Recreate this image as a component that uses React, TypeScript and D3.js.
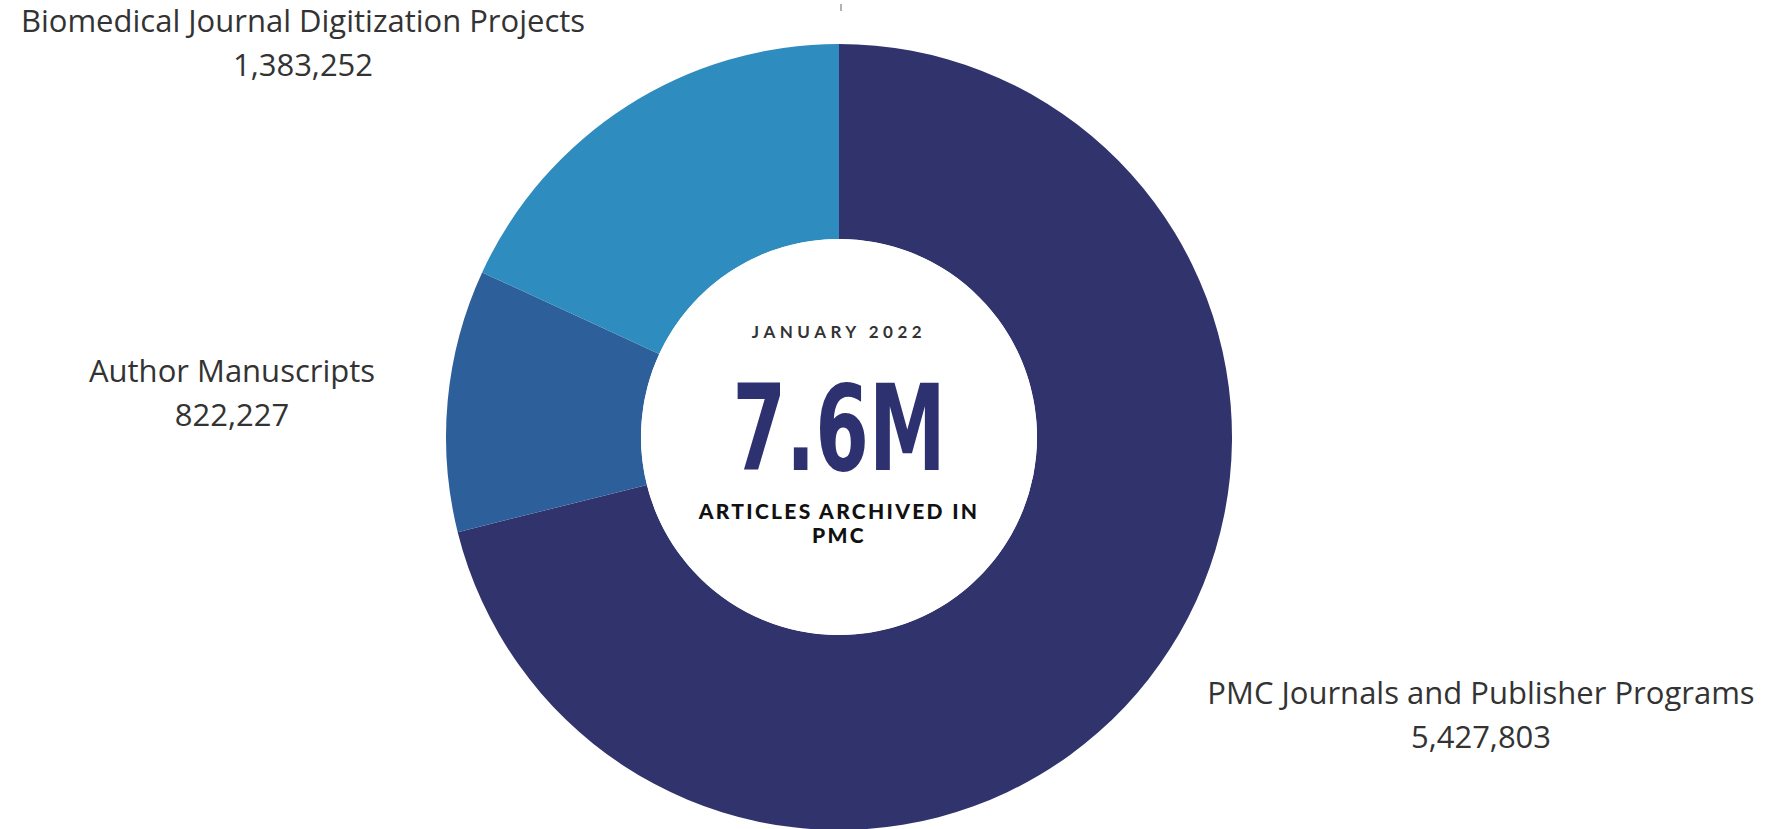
import { arc, pie, format } from "d3";

const categories = [
  "PMC Journals and Publisher Programs",
  "Author Manuscripts",
  "Biomedical Journal Digitization Projects",
];
const articleCounts = [5427803, 822227, 1383252];
const sliceColors = ["#31346c", "#2d5f9a", "#2f8cbe"];

const centerDate = "JANUARY 2022";
const centerTotal = "7.6M";
const centerCaption = ["ARTICLES ARCHIVED IN", "PMC"];

const width = 1775;
const height = 829;
const cx = 839;
const cy = 437;
const outerRadius = 393;
const innerRadius = 198;

// label anchors, same order as categories
const labelPos = [
  { x: 1481, y: 693 },
  { x: 232, y: 371 },
  { x: 303, y: 21 },
];

const fmt = format(",");

export default function App() {
  const slices = pie<number>()
    .sort(null)
    .value((d) => d)(articleCounts);

  const arcGen = arc<any>().innerRadius(innerRadius).outerRadius(outerRadius);

  return (
    <svg
      width={width}
      height={height}
      style={{ position: "absolute", left: 0, top: 0, display: "block" }}
    >
      <rect width={width} height={height} fill="#ffffff" />
      <line x1={cx + 2} x2={cx + 2} y1={4} y2={11} stroke="#999" strokeWidth={1.5} />
      <g transform={`translate(${cx}, ${cy})`}>
        {slices.map((s, i) => (
          <path key={i} d={arcGen(s) ?? ""} fill={sliceColors[i]} />
        ))}
        <circle r={innerRadius} fill="#ffffff" />
        <text
          y={-105}
          textAnchor="middle"
          dy="0.35em"
          fontFamily="Lato, 'Open Sans', sans-serif"
          fontWeight={700}
          fontSize={17}
          letterSpacing="4.5"
          fill="#333"
        >
          {centerDate}
        </text>
        <text
          y={33}
          textAnchor="middle"
          fontFamily="'Liberation Sans Narrow', 'DejaVu Sans Condensed', sans-serif"
          fontWeight={700}
          fontSize={119}
          fill="#2e3170"
          transform="scale(0.72,1)"
        >
          {centerTotal}
        </text>
        {centerCaption.map((t, i) => (
          <text
            key={t}
            y={75 + i * 24}
            textAnchor="middle"
            dy="0.35em"
            fontFamily="Lato, sans-serif"
            fontWeight={900}
            fontSize={21}
            letterSpacing="2.3"
            fill="#111"
          >
            {t}
          </text>
        ))}
      </g>
      {categories.map((c, i) => (
        <g key={c} transform={`translate(${labelPos[i].x}, ${labelPos[i].y})`}>
          <text
            textAnchor="middle"
            dy="0.35em"
            fontFamily="'Open Sans', sans-serif"
            fontSize={31}
            fill="#333"
          >
            {c}
          </text>
          <text
            y={44}
            textAnchor="middle"
            dy="0.35em"
            fontFamily="'Open Sans', sans-serif"
            fontSize={31}
            fill="#333"
          >
            {fmt(articleCounts[i])}
          </text>
        </g>
      ))}
    </svg>
  );
}
